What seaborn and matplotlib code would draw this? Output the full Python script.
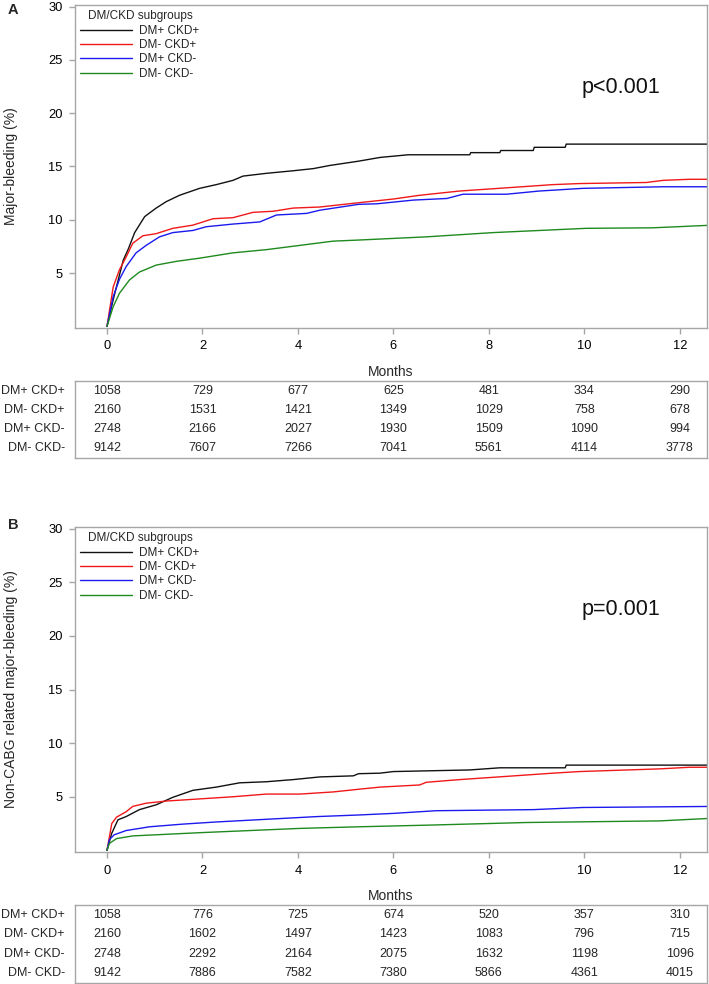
import pandas as pd
import matplotlib
matplotlib.use("Agg")
import matplotlib.pyplot as plt
import seaborn as sns

groups = ['DM+ CKD+', 'DM- CKD+', 'DM+ CKD-', 'DM- CKD-']
colors = ['#111111', '#f01818', '#1a1aee', '#1e8a1e']
month_ticks = [0, 2, 4, 6, 8, 10, 12]

# panel A: major bleeding, cumulative incidence (%)
a_t_dmp_ckdp = [0, 0.13, 0.34, 0.45, 0.58, 0.79, 1.03, 1.24, 1.52, 1.94, 2.29, 2.64, 2.85, 3.34,
                3.9, 4.32, 4.67, 5.27, 5.72, 6.31, 7.6, 7.62, 8.23, 8.25, 8.93, 8.95, 9.6, 9.62, 12.7]
a_v_dmp_ckdp = [0, 2.5, 6.2, 7.3, 8.8, 10.3, 11.1, 11.7, 12.3, 12.95, 13.3, 13.7, 14.1, 14.36,
                14.6, 14.8, 15.1, 15.5, 15.85, 16.1, 16.1, 16.3, 16.3, 16.5, 16.5, 16.8, 16.8, 17.1, 17.1]
a_t_dmm_ckdp = [0, 0.13, 0.26, 0.4, 0.54, 0.75, 1.03, 1.38, 1.8, 2.22, 2.64, 3.06, 3.48, 3.9, 4.46,
                5.27, 6.0, 6.55, 7.39, 8.37, 9.34, 9.9, 11.3, 11.65, 12.2, 12.7]
a_v_dmm_ckdp = [0, 3.7, 5.3, 6.5, 7.8, 8.5, 8.7, 9.2, 9.5, 10.1, 10.2, 10.7, 10.8, 11.1, 11.2,
                11.6, 11.95, 12.3, 12.7, 13.0, 13.3, 13.4, 13.5, 13.7, 13.8, 13.8]
a_t_dmp_ckdm = [0, 0.13, 0.26, 0.4, 0.61, 0.82, 1.1, 1.38, 1.8, 2.08, 2.64, 3.2, 3.55, 4.18, 4.46,
                5.27, 5.65, 6.42, 7.12, 7.46, 8.37, 9.06, 9.97, 11.65, 12.7]
a_v_dmp_ckdm = [0, 2.8, 4.4, 5.6, 6.9, 7.6, 8.4, 8.8, 9.0, 9.35, 9.6, 9.8, 10.45, 10.6, 10.9,
                11.45, 11.5, 11.85, 12.0, 12.4, 12.4, 12.7, 12.95, 13.1, 13.1]
a_t_dmm_ckdm = [0, 0.13, 0.26, 0.47, 0.68, 1.03, 1.45, 1.94, 2.64, 3.34, 4.04, 4.74, 5.27, 6.69,
                8.09, 10.04, 11.44, 12.7]
a_v_dmm_ckdm = [0, 1.85, 3.1, 4.35, 5.1, 5.75, 6.1, 6.4, 6.9, 7.2, 7.6, 8.0, 8.1, 8.4,
                8.8, 9.2, 9.25, 9.5]

# panel B: non-CABG related major bleeding (%)
b_t_dmp_ckdp = [0, 0.1, 0.23, 0.4, 0.68, 1.03, 1.38, 1.8, 2.29, 2.78, 3.34, 3.9, 4.46, 5.16, 5.27,
                5.72, 6.0, 7.6, 8.23, 9.6, 9.62, 12.7]
b_v_dmp_ckdp = [0, 1.6, 2.85, 3.15, 3.8, 4.25, 4.95, 5.6, 5.9, 6.3, 6.4, 6.6, 6.85, 6.95, 7.15,
                7.2, 7.35, 7.5, 7.7, 7.7, 7.95, 7.95]
b_t_dmm_ckdp = [0, 0.1, 0.2, 0.4, 0.54, 0.82, 1.24, 1.94, 2.64, 3.34, 4.04, 4.74, 5.27, 5.72, 6.55,
                6.69, 7.39, 8.37, 9.34, 9.9, 11.58, 12.2, 12.7]
b_v_dmm_ckdp = [0, 2.5, 3.1, 3.6, 4.1, 4.4, 4.6, 4.8, 5.0, 5.25, 5.25, 5.45, 5.7, 5.9, 6.1,
                6.35, 6.6, 6.9, 7.2, 7.35, 7.6, 7.75, 7.75]
b_t_dmp_ckdm = [0, 0.05, 0.15, 0.4, 0.89, 1.59, 2.29, 3.34, 4.39, 5.27, 6.0, 6.9, 8.93, 9.97, 12.7]
b_v_dmp_ckdm = [0, 1.0, 1.45, 1.85, 2.2, 2.45, 2.65, 2.9, 3.15, 3.3, 3.45, 3.7, 3.8, 4.0, 4.1]
b_t_dmm_ckdm = [0, 0.05, 0.2, 0.54, 1.24, 1.94, 2.99, 4.04, 5.27, 6.69, 8.79, 11.58, 12.7]
b_v_dmm_ckdm = [0, 0.65, 1.1, 1.35, 1.5, 1.65, 1.85, 2.05, 2.2, 2.35, 2.6, 2.75, 3.0]

# numbers at risk
a_risk = [[1058, 729, 677, 625, 481, 334, 290],
          [2160, 1531, 1421, 1349, 1029, 758, 678],
          [2748, 2166, 2027, 1930, 1509, 1090, 994],
          [9142, 7607, 7266, 7041, 5561, 4114, 3778]]
b_risk = [[1058, 776, 725, 674, 520, 357, 310],
          [2160, 1602, 1497, 1423, 1083, 796, 715],
          [2748, 2292, 2164, 2075, 1632, 1198, 1096],
          [9142, 7886, 7582, 7380, 5866, 4361, 4015]]

a_curves = [(a_t_dmp_ckdp, a_v_dmp_ckdp), (a_t_dmm_ckdp, a_v_dmm_ckdp),
            (a_t_dmp_ckdm, a_v_dmp_ckdm), (a_t_dmm_ckdm, a_v_dmm_ckdm)]
b_curves = [(b_t_dmp_ckdp, b_v_dmp_ckdp), (b_t_dmm_ckdp, b_v_dmm_ckdp),
            (b_t_dmp_ckdm, b_v_dmp_ckdm), (b_t_dmm_ckdm, b_v_dmm_ckdm)]

sns.set_theme(style='white')
plt.rcParams['font.family'] = ['Liberation Sans', 'DejaVu Sans']
GREY = '#a6a6a6'
XLIM = (-0.67, 12.57)


def to_long(curves):
    frames = []
    for name, (t, v) in zip(groups, curves):
        frames.append(pd.DataFrame({'Months': t, 'pct': v, 'group': name}))
    return pd.concat(frames, ignore_index=True)


def style_frame(ax):
    for s in ax.spines.values():
        s.set_visible(True)
        s.set_color(GREY)
        s.set_linewidth(1.0)


def draw_panel(fig, rect, table_rect, curves, risk, ylabel, ptext, letter, letter_y):
    ax = fig.add_axes(rect)
    df = to_long(curves)
    sns.lineplot(data=df, x='Months', y='pct', hue='group', hue_order=groups,
                 palette=colors, estimator=None, sort=False, linewidth=1.0, ax=ax)
    ax.set_xlim(*XLIM)
    ax.set_ylim(-0.15, 30.15)
    ax.set_xticks(month_ticks)
    ax.set_yticks([5, 10, 15, 20, 25, 30])
    ax.tick_params(axis='both', which='major', direction='out', length=4, width=1.0,
                   color=GREY, labelsize=9.3, labelcolor='black', pad=5,
                   bottom=True, left=True)
    style_frame(ax)
    ax.set_xlabel('Months', fontsize=10, va='center')
    ax.xaxis.set_label_coords(0.5, -0.136)
    ax.set_ylabel(ylabel, fontsize=10, va='center')
    ax.yaxis.set_label_coords(-0.102, 0.5)
    leg = ax.legend(title='DM/CKD subgroups', loc='upper left', bbox_to_anchor=(0.0, 1.0),
                    frameon=False, fontsize=8.5, title_fontsize=8.5, handlelength=4.4,
                    handletextpad=0.6, labelspacing=0.2, borderaxespad=0.25, borderpad=0.2)
    for line in leg.get_lines():
        line.set_linewidth(1.0)
    ax.text(0.864, 0.746, ptext, transform=ax.transAxes, ha='center', va='center',
            fontsize=15.5, color='#111111')
    fig.text(13 / 709, letter_y, letter, fontsize=10.5, fontweight='bold',
             ha='center', va='center')

    # number at risk table
    axt = fig.add_axes(table_rect)
    axt.set_xlim(*XLIM)
    axt.set_ylim(3.55, -0.55)
    axt.set_xticks([])
    axt.set_yticks([])
    style_frame(axt)
    for i, name in enumerate(groups):
        axt.text(-0.016, i, name, transform=axt.get_yaxis_transform(), ha='right',
                 va='center', fontsize=9)
        for m, n in zip(month_ticks, risk[i]):
            axt.text(m, i, str(n), ha='center', va='center', fontsize=9)
    return ax


fig = plt.figure(figsize=(7.09, 9.84), dpi=100)
W, H = 709, 984
left = 75 / W
width = 632 / W
draw_panel(fig, [left, 1 - 328 / H, width, 323 / H], [left, 1 - 458 / H, width, 77 / H],
           a_curves, a_risk, 'Major-bleeding (%)', 'p<0.001', 'A', 1 - 10 / H)
draw_panel(fig, [left, 1 - 852 / H, width, 325 / H], [left, 1 - 983 / H, width, 78 / H],
           b_curves, b_risk, 'Non-CABG related major-bleeding (%)', 'p=0.001', 'B', 1 - 525 / H)

fig.savefig('out.png', dpi=100)
